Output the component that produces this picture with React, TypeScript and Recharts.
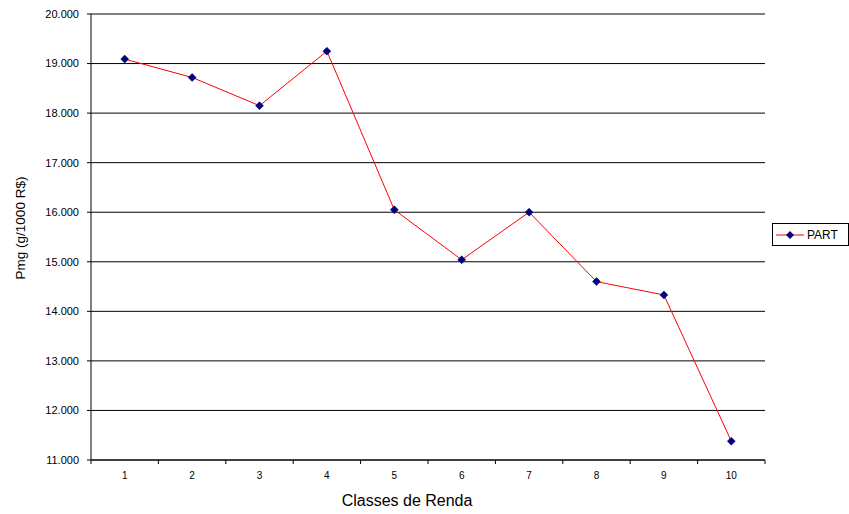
import { CartesianGrid, Line, LineChart, XAxis, YAxis } from "recharts";

const classes = ["1", "2", "3", "4", "5", "6", "7", "8", "9", "10"];
const part = [19.09, 18.72, 18.15, 19.25, 16.05, 15.04, 16.0, 14.6, 14.33, 11.38];
const yTicks = [11, 12, 13, 14, 15, 16, 17, 18, 19, 20];

const data = classes.map((c, i) => ({ classe: c, PART: part[i] }));

const W = 849;
const H = 514;
const PLOT_LEFT = 91;
const PLOT_RIGHT = 765;
const BAND = (PLOT_RIGHT - PLOT_LEFT) / classes.length;
const FONT = "'Liberation Sans', Arial, sans-serif";

const Diamond = (props: any) => {
  const { cx, cy } = props;
  if (cx == null || cy == null) return null;
  return (
    <polygon
      points={`${cx},${cy - 4} ${cx + 4},${cy} ${cx},${cy + 4} ${cx - 4},${cy}`}
      fill="#000080"
      stroke="#000080"
      strokeWidth={0.5}
    />
  );
};

const XTick = (props: any) => {
  const { x, y, payload, index } = props;
  const last = index === classes.length - 1;
  return (
    <g>
      <line x1={x - BAND / 2} x2={x - BAND / 2} y1={y} y2={y + 4} stroke="#000" />
      {last && <line x1={x + BAND / 2} x2={x + BAND / 2} y1={y} y2={y + 4} stroke="#000" />}
      <text x={x} y={y + 19} textAnchor="middle" fontSize={10} fill="#000" fontFamily={FONT}>
        {payload.value}
      </text>
    </g>
  );
};

export default function App() {
  return (
    <div style={{ position: "absolute", left: 0, top: 0, width: W, height: H, background: "#fff", fontFamily: FONT }}>
      <LineChart width={W} height={H} data={data} margin={{ top: 14, right: W - PLOT_RIGHT, bottom: 0, left: 0 }}>
        <CartesianGrid vertical={false} stroke="#000" />
        <XAxis
          dataKey="classe"
          scale="band"
          tickLine={false}
          tickSize={0}
          tickMargin={0}
          interval={0}
          height={54}
          axisLine={{ stroke: "#000" }}
          tick={<XTick />}
          label={{
            value: "Classes de Renda",
            position: "insideBottom",
            offset: 8,
            dx: -21,
            style: { fontSize: 16, fill: "#000", fontFamily: FONT },
          }}
        />
        <XAxis xAxisId="top" orientation="top" dataKey="classe" scale="band" height={0} tick={false} tickLine={false} axisLine={{ stroke: "#808080" }} />
        <YAxis
          domain={[11, 20]}
          ticks={yTicks}
          interval={0}
          width={PLOT_LEFT}
          tickSize={4}
          tickMargin={8}
          tickFormatter={(v: number) => `${v}.000`}
          tick={{ fontSize: 11, fill: "#000", fontFamily: FONT }}
          axisLine={{ stroke: "#000" }}
          tickLine={{ stroke: "#000" }}
          label={{
            value: "Pmg (g/1000 R$)",
            angle: -90,
            position: "insideLeft",
            offset: 0,
            dx: 20,
            dy: -9,
            style: { textAnchor: "middle", fontSize: 13.5, fill: "#000", fontFamily: FONT },
          }}
        />
        <YAxis yAxisId="right" orientation="right" domain={[11, 20]} width={0} tick={false} tickLine={false} axisLine={{ stroke: "#808080" }} />
        <Line
          dataKey="PART"
          type="linear"
          stroke="#ff0000"
          strokeWidth={1}
          dot={<Diamond />}
          activeDot={false}
          isAnimationActive={false}
        />
      </LineChart>
      <div
        style={{
          position: "absolute",
          left: 772,
          top: 223,
          width: 75,
          height: 21,
          border: "1px solid #000",
          background: "#fff",
          display: "flex",
          alignItems: "center",
          fontSize: 12,
          color: "#000",
        }}
      >
        <svg width={30} height={10} style={{ marginLeft: 3 }}>
          <line x1={0} x2={28} y1={5} y2={5} stroke="#ff0000" strokeWidth={1} />
          <polygon points="14,1 18,5 14,9 10,5" fill="#000080" />
        </svg>
        <span style={{ marginLeft: 1 }}>PART</span>
      </div>
    </div>
  );
}
